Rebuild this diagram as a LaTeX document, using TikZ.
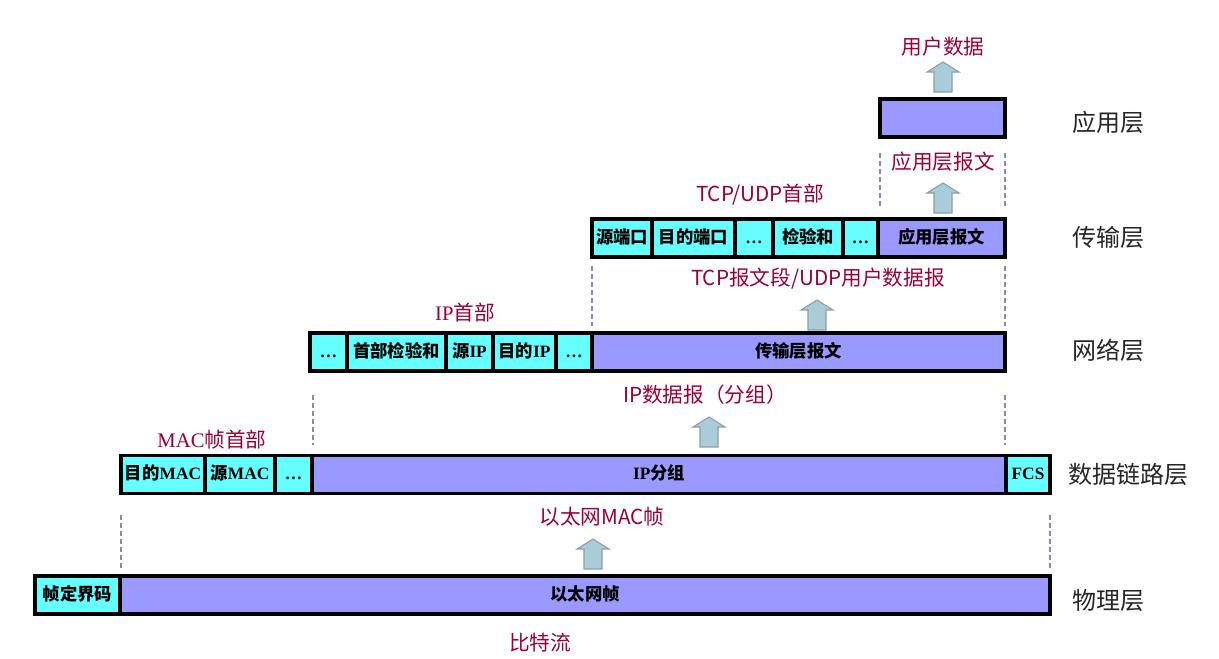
\documentclass[tikz,border=0pt]{standalone}
\usepackage{fontspec}
\setmainfont{Liberation Serif}
\newfontfamily\cjk{Noto Sans CJK SC}
\newcommand\zh[1]{{\cjk #1}}
\definecolor{cyanc}{HTML}{66FFFF}
\definecolor{purc}{HTML}{9999FF}
\definecolor{lblred}{HTML}{990033}
\definecolor{guidec}{HTML}{8A8AA6}
\definecolor{arrfill}{HTML}{A9CCD8}
\definecolor{arrdraw}{HTML}{8C9EA8}
\tikzset{
  cellbox/.style={draw=black, line width=2.4pt, inner sep=0pt, minimum height=28.5pt,
    text height=9.5pt, text depth=2pt,
    font=\fontsize{13}{13}\selectfont\bfseries, text=black},
  hdr/.style={cellbox, fill=cyanc},
  pay/.style={cellbox, fill=purc},
  lbl/.style={text=lblred, inner sep=0pt, font=\cjk\fontsize{15.5}{16}\selectfont},
  layer/.style={text=black!85, inner sep=0pt, font=\cjk\fontsize{18}{18}\selectfont},
  guide/.style={draw=guidec, line width=0.8pt, dash pattern=on 3.5pt off 2.5pt},
  blk/.style={fill=arrfill, draw=arrdraw, line width=0.8pt}
}
\newcommand\blkarrow[2]{\draw[blk] (#1,#2) -- ++(16,10) -- ++(-7,0) -- ++(0,20) -- ++(-18,0) -- ++(0,-20) -- ++(-7,0) -- cycle;}
\begin{document}
\begin{tikzpicture}[x=0.75pt,y=-0.75pt]
\useasboundingbox (0,0) rectangle (1219,658);

% ---------- application layer ----------
\node[lbl] (userdata) at (943,47) {用户数据};
\blkarrow{943}{62}
\node[pay, minimum width=93.75pt] (appbox) at (942.5,118) {};
\node[layer] (Lapp) at (1108,122) {应用层};
\node[lbl] (appmsg) at (943,162) {应用层报文};
\coordinate (g1a) at (880,153); \coordinate (g1b) at (880,206);
\coordinate (g1c) at (1005,153); \coordinate (g1d) at (1005,206);
\draw[guide] (g1a) -- (g1b); \draw[guide] (g1c) -- (g1d);
\blkarrow{943}{183}

% ---------- transport layer ----------
\node[lbl] (tcphdr) at (760,195) {TCP/UDP首部};
\node[hdr, minimum width=45pt]    (t1) at (622,238)   {\zh{源端口}};
\node[hdr, minimum width=62.25pt] (t2) at (693.5,238) {\zh{目的端口}};
\node[hdr, minimum width=28.5pt]  (t3) at (754,238)   {…};
\node[hdr, minimum width=52.5pt]  (t4) at (808,238)   {\zh{检验和}};
\node[hdr, minimum width=26.25pt] (t5) at (860.5,238) {…};
\node[pay, minimum width=95.25pt] (t6) at (941.5,238) {\zh{应用层报文}};
\node[layer] (Ltr) at (1108,237) {传输层};
\node[lbl] (tcpseg) at (818,279) {TCP报文段/UDP用户数据报};
\coordinate (g2a) at (592,266); \coordinate (g2b) at (592,326);
\coordinate (g2c) at (1005,266); \coordinate (g2d) at (1005,326);
\draw[guide] (g2a) -- (g2b); \draw[guide] (g2c) -- (g2d);
\blkarrow{817}{300}

% ---------- network layer ----------
\node[lbl] (iphdr) at (465,313) {{\rmfamily IP}首部};
\node[hdr, minimum width=27.75pt] (n1) at (328.5,352) {…};
\node[hdr, minimum width=74.25pt] (n2) at (396.5,352) {\zh{首部检验和}};
\node[hdr, minimum width=35.25pt] (n3) at (469.5,352) {\zh{源}IP};
\node[hdr, minimum width=47.25pt] (n4) at (524.5,352) {\zh{目的}IP};
\node[hdr, minimum width=27pt]    (n5) at (574,352)   {…};
\node[pay, minimum width=309.75pt] (n6) at (798.5,352) {\zh{传输层报文}};
\node[layer] (Lnet) at (1108,350) {网络层};
\node[lbl] (ipdg) at (705,395) {IP数据报（分组）};
\coordinate (g3a) at (313,395); \coordinate (g3b) at (313,445);
\coordinate (g3c) at (1005,395); \coordinate (g3d) at (1005,445);
\draw[guide] (g3a) -- (g3b); \draw[guide] (g3c) -- (g3d);
\blkarrow{709}{417}

% ---------- data link layer ----------
\node[lbl] (machdr) at (212,440) {{\rmfamily MAC}帧首部};
\node[hdr, minimum width=63pt]    (d1) at (163,474.5)  {\zh{目的}MAC};
\node[hdr, minimum width=52.5pt]  (d2) at (240,474.5)  {\zh{源}MAC};
\node[hdr, minimum width=27.75pt] (d3) at (293.5,474.5) {…};
\node[pay, minimum width=520.5pt] (d4) at (659,474.5)  {IP\zh{分组}};
\node[hdr, minimum width=33pt]    (d5) at (1028,474.5) {FCS};
\node[layer] (Ldl) at (1128,474) {数据链路层};
\node[lbl] (macfr) at (602,517) {以太网MAC帧};
\coordinate (g4a) at (121,515); \coordinate (g4b) at (121,570);
\coordinate (g4c) at (1050,515); \coordinate (g4d) at (1050,570);
\draw[guide] (g4a) -- (g4b); \draw[guide] (g4c) -- (g4d);
\blkarrow{593}{539}

% ---------- physical layer ----------
\node[hdr, minimum width=63.75pt] (p1) at (77.5,595) {\zh{帧定界码}};
\node[pay, minimum width=697.5pt] (p2) at (585,595)  {\zh{以太网帧}};
\node[layer] (Lph) at (1108,600) {物理层};
\node[lbl] (bits) at (540,643) {比特流};
\end{tikzpicture}
\end{document}
